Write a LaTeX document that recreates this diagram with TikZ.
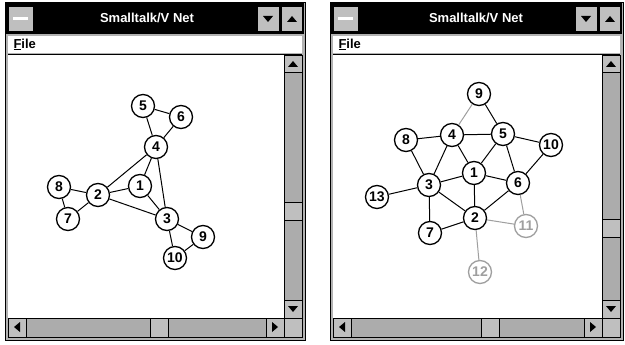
\documentclass[tikz,border=0pt]{standalone}
\usepackage{fontspec}
\setmainfont{Liberation Sans}
\begin{document}
\begin{tikzpicture}[x=1pt,y=-1pt,
 nd/.style={circle,draw,line width=1.3pt,fill=white,minimum size=23pt,inner sep=0pt,font=\bfseries\fontsize{14}{14}\selectfont},
 ndg/.style={nd,draw=gray!75,text=gray!75},
 ed/.style={line width=1pt},
 edg/.style={ed,draw=gray!75},
 winframe/.style={fill=gray!60,draw=black,line width=1pt},
 btn/.style={fill=gray!50,draw=black,line width=0.6pt},
 sbar/.style={fill=gray!65,draw=black,line width=0.6pt},
 tri/.style={fill=black},
 ttl/.style={text=white,font=\bfseries\fontsize{13}{13}\selectfont},
 menu/.style={font=\bfseries\fontsize{13}{13}\selectfont,anchor=west}]
\useasboundingbox (0,0) rectangle (625,345);
\fill[white] (0,0) rectangle (625,345);
\newcommand\mywin[6]{%
 \draw[winframe] (#1,3) rectangle (#2,340);
 \fill[black] (#1+1,3) rectangle (#2-1,34);
 \draw[btn] (#1+3,6) rectangle (#1+28,31);
 \fill[white] (#1+8,17) rectangle (#1+23,20);
 \draw[btn] (#2-48,6) rectangle (#2-26,31);
 \fill[tri] (#2-42,16) -- (#2-32,16) -- (#2-37,22) -- cycle;
 \draw[btn] (#2-24,6) rectangle (#2-3,31);
 \fill[tri] (#2-18,22) -- (#2-8,22) -- (#2-13,16) -- cycle;
 \node[ttl] (t#6) at (#3,18) {Smalltalk/V Net};
 \fill[white] (#1+3,36) rectangle (#2-3,53);
 \draw[line width=0.8pt] (#1+3,54) -- (#2-3,54);
 \node[menu] (m#6) at (#1+5,44.5) {\underline{F}ile};
 \fill[white] (#1+3,55) rectangle (#2-21,318);
 \draw[sbar] (#2-21,55) rectangle (#2-3,318);
 \draw[btn] (#2-21,55) rectangle (#2-3,72);
 \fill[tri] (#2-17,67) -- (#2-7,67) -- (#2-12,61) -- cycle;
 \draw[btn] (#2-21,#5) rectangle (#2-3,#5+18);
 \draw[btn] (#2-21,300) rectangle (#2-3,318);
 \fill[tri] (#2-17,306) -- (#2-7,306) -- (#2-12,312) -- cycle;
 \draw[sbar] (#1+3,318) rectangle (#2-21,337);
 \draw[btn] (#1+3,318) rectangle (#1+21,337);
 \fill[tri] (#1+15,322) -- (#1+15,332) -- (#1+9,327) -- cycle;
 \draw[btn] (#4,318) rectangle (#4+18,337);
 \draw[btn] (#2-39,318) rectangle (#2-21,337);
 \fill[tri] (#2-33,322) -- (#2-33,332) -- (#2-27,327) -- cycle;
 \draw[btn] (#2-21,318) rectangle (#2-3,337);
}
\mywin{5}{305}{147}{150}{202}{L}
\mywin{330}{623}{476}{481}{219}{R}
% left graph
\node[nd] (a5) at (143,106) {5};
\node[nd] (a6) at (181,117) {6};
\node[nd] (a4) at (156,147) {4};
\node[nd] (a1) at (140,186) {1};
\node[nd] (a2) at (98,195) {2};
\node[nd] (a8) at (59,187) {8};
\node[nd] (a7) at (68,219) {7};
\node[nd] (a3) at (167,219) {3};
\node[nd] (a9) at (203,237) {9};
\node[nd] (a10) at (175,258) {10};
\foreach \u/\v in {a5/a6,a5/a4,a6/a4,a4/a1,a4/a2,a4/a3,a1/a2,a1/a3,a2/a3,a2/a8,a2/a7,a8/a7,a3/a9,a3/a10,a9/a10}
 \draw[ed] (\u) -- (\v);
% right graph
\node[nd] (b9) at (479,94) {9};
\node[nd] (b4) at (452,135) {4};
\node[nd] (b5) at (503,134) {5};
\node[nd] (b8) at (406,140) {8};
\node[nd] (b10) at (551,145) {10};
\node[nd] (b1) at (474,173) {1};
\node[nd] (b3) at (429,185) {3};
\node[nd] (b6) at (518,183) {6};
\node[nd] (b13) at (377,197) {13};
\node[nd] (b2) at (475,218) {2};
\node[ndg] (b11) at (526,226) {11};
\node[nd] (b7) at (430,233) {7};
\node[ndg] (b12) at (480,272) {12};
\foreach \u/\v in {b9/b5,b4/b5,b8/b4,b8/b3,b4/b3,b4/b1,b5/b1,b5/b10,b5/b6,b10/b6,b1/b3,b1/b6,b1/b2,b3/b13,b3/b7,b3/b2,b6/b2,b2/b7}
 \draw[ed] (\u) -- (\v);
\foreach \u/\v in {b9/b4,b6/b11,b2/b11,b2/b12}
 \draw[edg] (\u) -- (\v);
\end{tikzpicture}
\end{document}
